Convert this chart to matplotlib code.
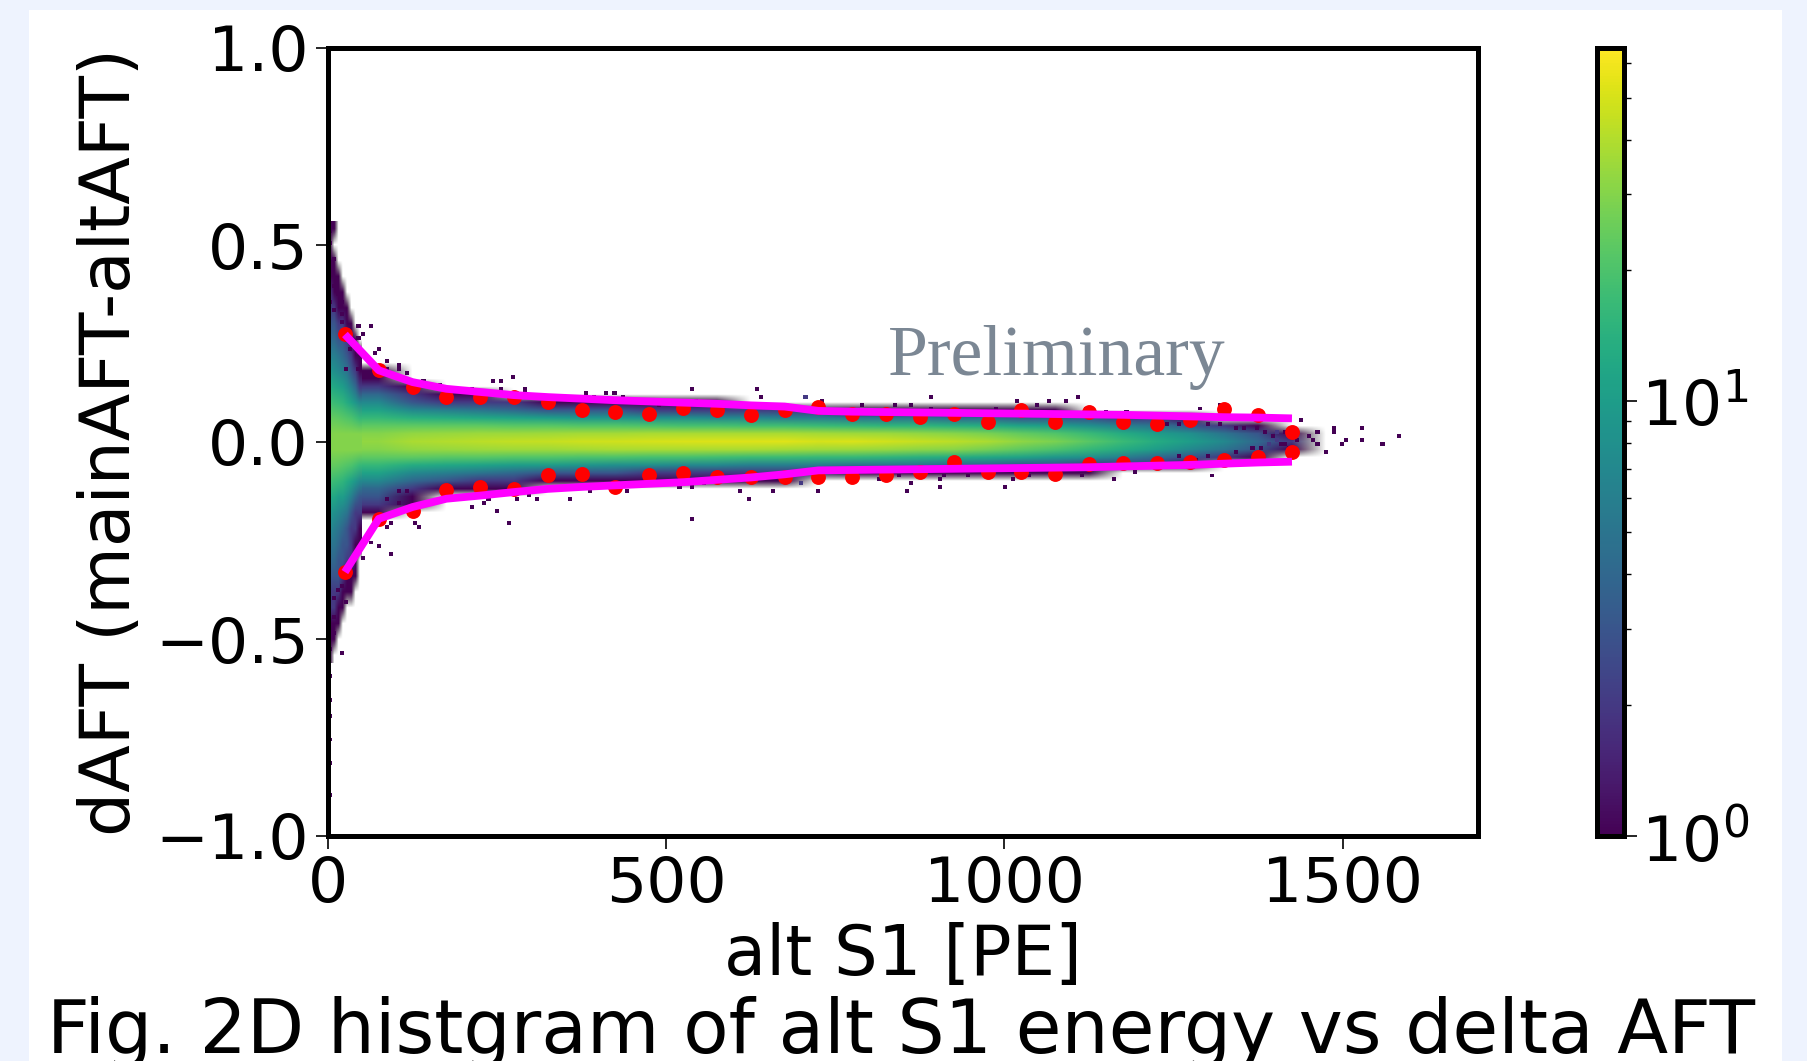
import numpy as np
import matplotlib
matplotlib.use("Agg")
import matplotlib.pyplot as plt
from matplotlib.colors import LogNorm
from matplotlib.patches import Rectangle

W, H = 1808, 1061

# Red points (bin centres, PE) and their upper / lower dAFT values
bin_centres = [25, 75, 125, 175, 225, 275, 325, 375, 425, 475, 525, 575, 625, 675, 725,
               775, 825, 875, 925, 975, 1025, 1075, 1125, 1175, 1225, 1275, 1325, 1375, 1425]
upper_pts = [.273, .182, .14, .113, .114, .113, .102, .082, .076, .072, .087, .08, .068, .082, .09,
             .071, .071, .064, .071, .052, .081, .052, .075, .052, .046, .056, .084, .069, .026]
lower_pts = [-.33, -.195, -.175, -.121, -.113, -.119, -.085, -.082, -.114, -.085, -.079, -.09, -.09, -.09, -.088,
             -.088, -.084, -.075, -.05, -.075, -.075, -.08, -.056, -.054, -.054, -.05, -.046, -.037, -.025]
# Magenta envelope curves
upper_curve = [.273, .182, .152, .135, .127, .119, .114, .110, .106, .103, .100, .097, .093, .090, .079,
               .077, .076, .075, .074, .073, .072, .071, .070, .069, .067, .065, .063, .062, .060]
lower_curve = [-.33, -.195, -.165, -.144, -.136, -.127, -.119, -.114, -.11, -.106, -.102, -.096, -.09, -.082, -.072,
               -.071, -.070, -.069, -.068, -.067, -.066, -.065, -.064, -.062, -.060, -.058, -.055, -.052, -.05]

# Main body: one line per 50 PE column (75 ... 1425, then an empty end column),
# rows from dAFT=+0.24 to -0.24 in 0.02 steps
body_counts = [
 [0, 0, 0, 1, 1, 2, 4, 7, 11, 16, 23, 30, 33, 30, 23, 16, 11, 7, 4, 3, 2, 1, 0, 0, 0],
 [0, 0, 0, 0, 0, 1, 2, 3, 7, 14, 23, 33, 38, 33, 23, 13, 7, 4, 2, 1, 1, 0, 0, 0, 0],
 [0, 0, 0, 0, 0, 0, 1, 2, 6, 13, 23, 34, 40, 34, 22, 12, 6, 3, 1, 0, 0, 0, 0, 0, 0],
 [0, 0, 0, 0, 0, 0, 1, 2, 5, 12, 23, 35, 42, 35, 22, 11, 5, 2, 1, 0, 0, 0, 0, 0, 0],
 [0, 0, 0, 0, 0, 0, 0, 2, 4, 11, 22, 35, 44, 36, 21, 10, 4, 2, 1, 0, 0, 0, 0, 0, 0],
 [0, 0, 0, 0, 0, 0, 0, 1, 3, 10, 22, 36, 45, 36, 21, 10, 3, 1, 0, 0, 0, 0, 0, 0, 0],
 [0, 0, 0, 0, 0, 0, 0, 1, 3, 9, 21, 37, 47, 37, 20, 9, 3, 1, 0, 0, 0, 0, 0, 0, 0],
 [0, 0, 0, 0, 0, 0, 0, 1, 3, 9, 21, 37, 48, 38, 20, 8, 3, 1, 0, 0, 0, 0, 0, 0, 0],
 [0, 0, 0, 0, 0, 0, 0, 1, 2, 8, 20, 38, 50, 38, 19, 8, 2, 1, 0, 0, 0, 0, 0, 0, 0],
 [0, 0, 0, 0, 0, 0, 0, 1, 2, 8, 19, 38, 51, 38, 19, 7, 2, 1, 0, 0, 0, 0, 0, 0, 0],
 [0, 0, 0, 0, 0, 0, 0, 1, 2, 7, 19, 38, 52, 38, 18, 7, 2, 1, 0, 0, 0, 0, 0, 0, 0],
 [0, 0, 0, 0, 0, 0, 0, 0, 2, 7, 18, 38, 52, 38, 17, 6, 2, 1, 0, 0, 0, 0, 0, 0, 0],
 [0, 0, 0, 0, 0, 0, 0, 0, 2, 6, 18, 38, 53, 37, 17, 6, 2, 1, 0, 0, 0, 0, 0, 0, 0],
 [0, 0, 0, 0, 0, 0, 0, 0, 2, 6, 17, 37, 50, 36, 16, 6, 2, 0, 0, 0, 0, 0, 0, 0, 0],
 [0, 0, 0, 0, 0, 0, 0, 0, 1, 5, 16, 36, 51, 35, 16, 5, 1, 0, 0, 0, 0, 0, 0, 0, 0],
 [0, 0, 0, 0, 0, 0, 0, 0, 1, 5, 15, 35, 48, 34, 15, 5, 1, 0, 0, 0, 0, 0, 0, 0, 0],
 [0, 0, 0, 0, 0, 0, 0, 0, 1, 5, 15, 33, 45, 32, 14, 5, 1, 0, 0, 0, 0, 0, 0, 0, 0],
 [0, 0, 0, 0, 0, 0, 0, 0, 1, 4, 14, 31, 42, 31, 13, 4, 1, 0, 0, 0, 0, 0, 0, 0, 0],
 [0, 0, 0, 0, 0, 0, 0, 0, 1, 4, 13, 28, 38, 27, 12, 4, 1, 0, 0, 0, 0, 0, 0, 0, 0],
 [0, 0, 0, 0, 0, 0, 0, 0, 1, 3, 11, 24, 32, 23, 11, 3, 1, 0, 0, 0, 0, 0, 0, 0, 0],
 [0, 0, 0, 0, 0, 0, 0, 0, 1, 3, 10, 21, 28, 20, 9, 3, 1, 0, 0, 0, 0, 0, 0, 0, 0],
 [0, 0, 0, 0, 0, 0, 0, 0, 0, 3, 8, 17, 22, 16, 8, 2, 1, 0, 0, 0, 0, 0, 0, 0, 0],
 [0, 0, 0, 0, 0, 0, 0, 0, 0, 2, 6, 13, 17, 13, 6, 2, 0, 0, 0, 0, 0, 0, 0, 0, 0],
 [0, 0, 0, 0, 0, 0, 0, 0, 0, 2, 5, 10, 13, 10, 4, 2, 0, 0, 0, 0, 0, 0, 0, 0, 0],
 [0, 0, 0, 0, 0, 0, 0, 0, 0, 1, 3, 8, 10, 7, 3, 1, 0, 0, 0, 0, 0, 0, 0, 0, 0],
 [0, 0, 0, 0, 0, 0, 0, 0, 0, 0, 2, 5, 7, 5, 2, 0, 0, 0, 0, 0, 0, 0, 0, 0, 0],
 [0, 0, 0, 0, 0, 0, 0, 0, 0, 0, 1, 3, 4, 3, 1, 0, 0, 0, 0, 0, 0, 0, 0, 0, 0],
 [0, 0, 0, 0, 0, 0, 0, 0, 0, 0, 0, 1, 2, 1, 0, 0, 0, 0, 0, 0, 0, 0, 0, 0, 0],
 [0, 0, 0, 0, 0, 0, 0, 0, 0, 0, 0, 0, 0, 0, 0, 0, 0, 0, 0, 0, 0, 0, 0, 0, 0],
]

# First 50 PE: one line per narrow column, rows from dAFT=+0.54 to -0.54 in 0.04 steps
flare_counts = [
 [1, 1, 1, 1, 2, 2, 3, 4, 6, 9, 13, 18, 24, 29, 29, 24, 18, 12, 9, 7, 5, 4, 3, 2, 2, 1, 1, 1],
 [1, 0, 1, 1, 1, 2, 3, 4, 6, 8, 12, 17, 24, 30, 30, 24, 17, 12, 8, 6, 5, 4, 3, 2, 2, 1, 1, 0],
 [0, 0, 0, 1, 1, 1, 2, 3, 5, 7, 11, 16, 23, 30, 30, 23, 16, 10, 7, 5, 4, 3, 3, 2, 1, 1, 0, 0],
 [0, 0, 0, 0, 1, 1, 2, 3, 4, 6, 10, 15, 22, 30, 30, 22, 15, 10, 6, 4, 3, 3, 2, 1, 1, 0, 0, 0],
 [0, 0, 0, 0, 0, 1, 1, 2, 3, 5, 8, 13, 21, 30, 30, 21, 13, 8, 5, 3, 3, 2, 1, 1, 0, 0, 0, 0],
 [0, 0, 0, 0, 0, 0, 1, 1, 2, 3, 6, 11, 20, 30, 30, 20, 11, 6, 3, 2, 2, 2, 1, 1, 0, 0, 0, 0],
 [0, 0, 0, 0, 0, 0, 0, 1, 1, 2, 4, 9, 18, 30, 30, 18, 9, 4, 2, 2, 1, 1, 1, 0, 0, 0, 0, 0],
 [0, 0, 0, 0, 0, 0, 0, 0, 1, 1, 2, 7, 16, 30, 30, 16, 7, 3, 2, 1, 1, 0, 0, 0, 0, 0, 0, 0],
]

# Isolated sparse cells: PE and dAFT
stray_x = [43, 61, 51, 43, 78, 69, 87, 105, 34, 29, 43, 88, 103, 120, 142, 164, 182, 214, 241, 258, 273, 253, 290, 290,
           384, 394, 410, 426, 435, 460, 490, 529, 537, 546, 588, 613, 632, 639, 652, 706,
           88, 105, 120, 103, 88, 95, 129, 137, 61, 78, 96, 52, 214, 236, 233, 250, 265, 282, 300, 308, 317, 358, 385,
           440, 458, 537, 519, 537, 556, 608, 623, 655, 701,
           708, 728, 792, 835, 862, 893, 893, 989, 1021, 1047, 1065, 1090, 1107, 1118, 1151, 1183, 1286, 1320, 1440,
           700, 723, 811, 844, 862, 854, 903, 903, 912, 946, 998, 1013, 1038, 1116, 1161, 1191, 1304,
           1464, 1489, 1526, 1498, 1474, 1455, 1526, 1507, 1557, 1584, 1449, 1486, 1464, 1403, 1403, 1391, 1415, 1415,
           1240, 1258, 1275, 1300, 1320, 1340, 1355, 1370, 1385, 1400, 1395, 1405, 1390, 1380, 1365, 1345, 1325, 1300,
           1285, 1260, 1410, 1420, 1420, 1430,
           5, 5, 11, 5, 11, 17, 5, 11, 20, 20, 23,
           23, 17, 11, 29, 11, 11, 20, 5, 5, 5, 5, 3, 3, 3]
stray_y = [.30, .295, .27, .267, .23, .22, .208, .199, .233, .18, .18, .182, .18, .17, .159, .148, .138, .138, .159, .159, .169, .138, .135, .123,
           .127, .119, .129, .129, .119, .106, .10, .108, .138, .108, .10, .10, .138, .119, .10, .119,
           -.144, -.127, -.127, -.155, -.216, -.205, -.205, -.216, -.258, -.261, -.281, -.292, -.165, -.144, -.155, -.175, -.205, -.144, -.131, -.144, -.125, -.144, -.125,
           -.125, -.104, -.195, -.112, -.11, -.104, -.123, -.144, -.125, -.104,
           .119, .109, .098, .098, .098, .119, .088, .088, .109, .098, .109, .109, .119, .088, .077, .077, .088, .098, .058,
           -.10, -.124, -.092, -.081, -.102, -.124, -.092, -.113, -.081, -.081, -.113, -.092, -.081, -.081, -.092, -.071, -.081,
           .026, .039, .039, -.003, -.022, .005, .009, .009, -.002, .018, .018, .03, -.003, .022, .005, -.008, .022, -.003,
           .05, .045, .05, .05, .045, .04, .035, .04, .03, .03, .015, .01, -.005, -.015, -.02, -.03, -.035, -.04,
           -.045, -.04, -.01, .03, -.02, .01,
           .53, .50, .46, .43, .40, .38, .36, .34, .36, .33, .31,
           -.37, -.38, -.40, -.41, -.44, -.49, -.54, -.53, -.60, -.65, -.70, -.76, -.82, -.90]

x_ticks = [0, 500, 1000, 1500]
y_ticks = [-1.0, -0.5, 0.0, 0.5, 1.0]

plt.rcParams['font.family'] = 'DejaVu Sans'
fig = plt.figure(figsize=(W / 100, H / 100), dpi=100, facecolor='#EEF3FE')
fig.add_artist(Rectangle((29 / W, 0), (1782 - 29) / W, 1 - 10 / H, transform=fig.transFigure,
                         facecolor='white', edgecolor='none', zorder=-5))

def box(l, t, r, b):
    return [l / W, 1 - b / H, (r - l) / W, (b - t) / H]

ax = fig.add_axes(box(328, 48, 1478, 836))
cax = fig.add_axes(box(1597, 48, 1624, 836))
norm = LogNorm(1, 65)

body = np.array(body_counts, dtype=float).T
body = np.ma.masked_where(body <= 0, body)
ax.imshow(body, extent=(50, 1500, -0.25, 0.25), aspect='auto', cmap='viridis', norm=norm,
          interpolation='bilinear', interpolation_stage='rgba', zorder=1)

flare = np.array(flare_counts, dtype=float).T
ax.imshow(np.ma.masked_where(flare <= 0, flare), extent=(0, 50, -0.56, 0.56), aspect='auto',
          cmap='viridis', norm=norm, interpolation='bilinear', interpolation_stage='rgba', zorder=1)

x_edges = np.linspace(0, 1700, 284)
y_edges = np.linspace(-1, 1, 201)
sparse, _, _ = np.histogram2d(stray_x, stray_y, bins=[x_edges, y_edges])
mesh = ax.pcolormesh(x_edges, y_edges, np.ma.masked_where(sparse.T <= 0, sparse.T),
                     cmap='viridis', norm=norm, zorder=2)

ax.scatter(bin_centres, upper_pts, s=115, color='red', linewidths=0, zorder=3)
ax.scatter(bin_centres, lower_pts, s=115, color='red', linewidths=0, zorder=3)
ax.plot(bin_centres, upper_curve, color='#FF00FF', lw=5.6, zorder=4, solid_capstyle='butt', solid_joinstyle='round')
ax.plot(bin_centres, lower_curve, color='#FF00FF', lw=5.6, zorder=4, solid_capstyle='butt', solid_joinstyle='round')

ax.set_xlim(0, 1700)
ax.set_ylim(-1, 1)
ax.set_xticks(x_ticks)
ax.set_yticks(y_ticks)
ax.tick_params(labelsize=45.5, length=9, width=1.2, pad=5)
for s in ax.spines.values():
    s.set_linewidth(3.6)
ax.set_xlabel('alt S1 [PE]', fontsize=49.5, labelpad=5)
ax.set_ylabel('dAFT (mainAFT-altAFT)', fontsize=50, labelpad=8)
fig.text(888 / W, 1 - 375 / H, 'Preliminary', family='Liberation Serif', fontsize=51.6,
         color='#7B8794', ha='left', va='baseline', zorder=6)

cb = fig.colorbar(mesh, cax=cax)
cb.outline.set_linewidth(3.6)
cb.ax.tick_params(which='major', labelsize=45.5, length=9, width=1.2, pad=3)
cb.ax.tick_params(which='minor', length=5, width=1.0)

fig.text(47 / W, 1 - 1053 / H, 'Fig. 2D histgram of alt S1 energy vs delta AFT', fontsize=53.6,
         ha='left', va='baseline')

fig.savefig('out.png', dpi=100, facecolor=fig.get_facecolor())
